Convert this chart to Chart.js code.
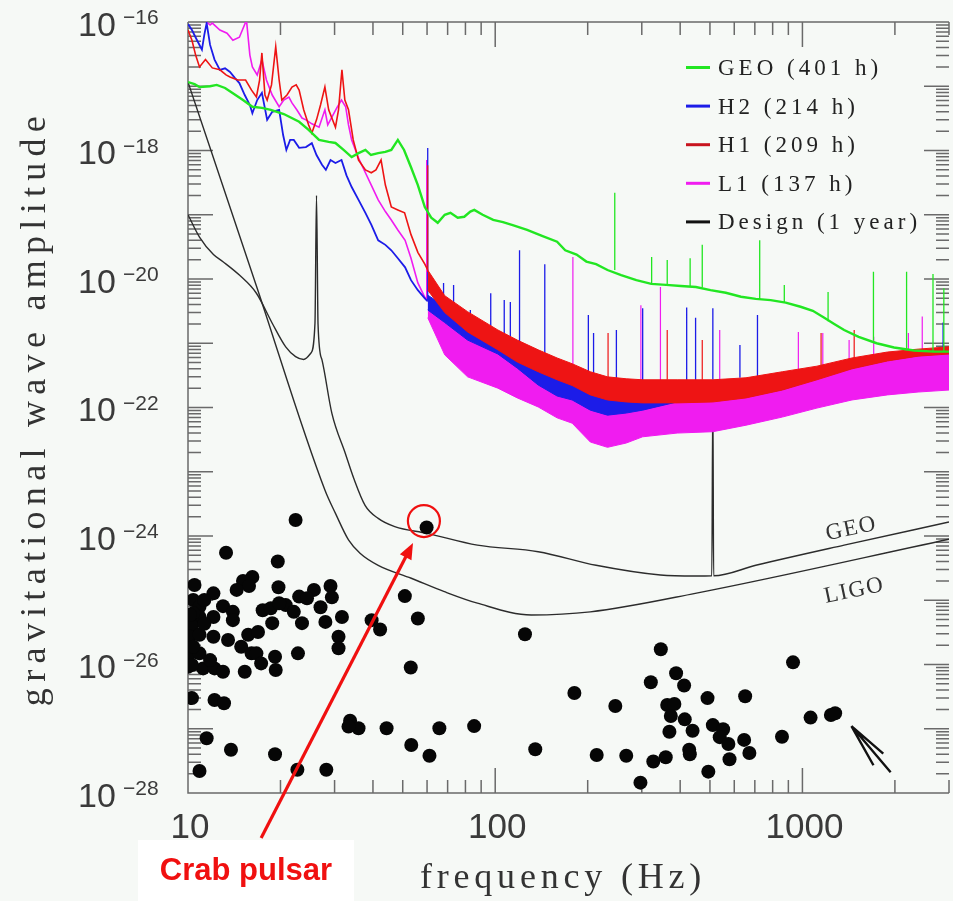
<!DOCTYPE html>
<html>
<head>
<meta charset="utf-8">
<script src="https://cdn.jsdelivr.net/npm/chart.js@4.4.1/dist/chart.umd.min.js"></script>
<style>
  html, body { margin: 0; padding: 0; background: #f6f9f6; overflow: hidden; }
  canvas { display: block; }
</style>
</head>
<body>
<canvas id="grafico" width="956" height="901"></canvas>
<script>
// ---- data ----
const xTickValues = [10, 100, 1000];
const xTickLabels = ['10', '100', '1000'];
const yTickExponents = [-16, -18, -20, -22, -24, -26, -28];

const legendLabels = ['GEO (401 h)', 'H2 (214 h)', 'H1 (209 h)', 'L1 (137 h)', 'Design (1 year)'];
const legendColors = ['#22e622', '#1c1ce8', '#c8141e', '#f01cf0', '#111111'];

// GEO measured spectrum
const geoHz = [10, 10.5, 10.9, 11.8, 12.4, 13.2, 14.0, 15.1, 16.2, 17.4, 18.6, 20.5, 23.0, 24.7, 26.7, 28.7, 30.2, 32.1, 34.1, 35.9,
  37.8, 39.4, 41.6, 43.9, 45.9, 48.2, 50.5, 53.2, 56.0, 59.0, 61.9, 65.0, 68.5, 71.5, 75.5, 79.3, 83.0, 85.5, 91.0, 98.5,
  106, 114, 127, 142, 159, 169, 184, 198, 213, 232, 257, 288, 322, 360, 402, 450, 502, 563, 631, 705,
  788, 882, 986, 1081, 1178, 1269, 1367, 1524, 1744, 1987, 2307, 2679, 3000];
const geoAmp = [1.16e-17, 1.08e-17, 9.7e-18, 1.0e-17, 1.05e-17, 9.4e-18, 7.8e-18, 6.1e-18, 4.8e-18, 4.6e-18, 4.3e-18, 3.7e-18, 2.8e-18, 2.1e-18, 1.46e-18, 1.36e-18, 1.31e-18, 1.02e-18, 7.9e-19, 9.1e-19,
  1.02e-18, 8.5e-19, 9.1e-19, 9.5e-19, 1.02e-18, 1.46e-18, 1.02e-18, 5.5e-19, 2.9e-19, 1.32e-19, 9.0e-20, 7.5e-20, 1.0e-19, 1.07e-19, 9.0e-20, 9.3e-20, 1.12e-19, 1.19e-19, 1.0e-19, 8.3e-20,
  7.7e-20, 6.9e-20, 5.8e-20, 4.7e-20, 3.8e-20, 2.8e-20, 2.4e-20, 1.87e-20, 1.7e-20, 1.38e-20, 1.15e-20, 9.6e-21, 8.4e-21, 8.1e-21, 7.8e-21, 7.5e-21, 6.7e-21, 6.1e-21, 5.3e-21, 4.9e-21,
  4.7e-21, 4.3e-21, 3.7e-21, 3.2e-21, 2.5e-21, 2.0e-21, 1.61e-21, 1.26e-21, 1.0e-21, 8.6e-22, 7.7e-22, 7.4e-22, 7.4e-22];
const geoSpikeHz = [245, 323, 363, 431, 472, 726, 873, 1212, 1703, 2183, 2661, 2886];
const geoSpikeLo = [1.38e-20, 8.4e-21, 8.1e-21, 7.6e-21, 7.3e-21, 4.9e-21, 4.3e-21, 2.2e-21, 1.1e-21, 7.8e-22, 7.4e-22, 7.4e-22];
const geoSpikeHi = [2.2e-19, 2.2e-20, 1.98e-20, 2.1e-20, 3.4e-20, 4.0e-20, 8.1e-21, 6.3e-21, 1.3e-20, 1.3e-20, 1.2e-20, 7.2e-21];

// H2, H1, L1 below 60 Hz
const h2Hz = [10, 10.3, 10.7, 11.1, 11.3, 11.5, 11.8, 12.2, 12.7, 13.2, 13.7, 14.2, 14.7, 15.3, 15.9, 16.2, 16.8, 17.4, 18.1, 18.8,
  19.8, 20.4, 20.9, 21.5, 22.1, 23.0, 24.2, 25.3, 26.2, 27.3, 28.1, 29.1, 30.2, 31.6, 32.8, 34.1, 35.9, 37.8, 39.5, 41.6,
  43.9, 45.9, 48.2, 50.9, 53.2, 56.0, 59.0, 60.3];
const h2Amp = [9.3e-17, 7.5e-17, 5.2e-17, 3.7e-17, 6.3e-17, 9.6e-17, 4.4e-17, 2.6e-17, 1.8e-17, 1.9e-17, 1.67e-17, 1.35e-17, 1.12e-17, 7.3e-18, 5.1e-18, 3.8e-18, 6.1e-18, 7.9e-18, 3.0e-18, 4.0e-18,
  4.3e-18, 1.74e-18, 1.02e-18, 1.46e-18, 1.46e-18, 1.1e-18, 1.13e-18, 1.3e-18, 8.5e-19, 6.0e-19, 5.0e-19, 7.1e-19, 6.4e-19, 7.1e-19, 4.1e-19, 2.7e-19, 1.7e-19, 1.07e-19, 7.0e-20, 4.0e-20,
  3.4e-20, 2.8e-20, 2.1e-20, 1.52e-20, 9.6e-21, 6.7e-21, 5.0e-21, 4.5e-21];
const h1Hz = [10, 10.3, 10.6, 10.9, 11.4, 12.0, 12.7, 13.3, 13.7, 14.5, 15.4, 16.1, 16.7, 17.1, 17.4, 17.8, 18.1, 18.7, 19.3, 19.8,
  20.2, 21.0, 21.8, 22.5, 23.0, 23.8, 24.7, 25.3, 26.2, 27.0, 27.9, 28.7, 30.2, 30.9, 31.7, 32.4, 33.3, 34.5, 35.9, 37.8,
  39.5, 40.9, 42.5, 43.9, 45.9, 48.2, 50.7, 53.2, 56.0, 59.0, 60.3];
const h1Amp = [7.5e-17, 5.2e-17, 3.0e-17, 2.0e-17, 2.6e-17, 1.93e-17, 1.8e-17, 1.5e-17, 1.39e-17, 1.25e-17, 1.25e-17, 8.7e-18, 6.8e-18, 1.25e-17, 3.3e-17, 7.3e-18, 6.1e-18, 1.05e-17, 4.1e-17, 1.25e-17,
  6.1e-18, 7.3e-18, 9.7e-18, 1.05e-17, 8.7e-18, 4.3e-18, 2.5e-18, 1.87e-18, 3.0e-18, 5.1e-18, 9.7e-18, 4.3e-18, 2.3e-18, 4.3e-18, 1.8e-17, 6.1e-18, 4.3e-18, 1.46e-18, 7.1e-19, 5.0e-19,
  4.5e-19, 5.0e-19, 7.1e-19, 2.9e-19, 1.32e-19, 1.19e-19, 1.07e-19, 4.9e-20, 2.6e-20, 1.7e-20, 1.38e-20];
const l1Hz = [10, 10.8, 11.3, 11.8, 12.0, 12.7, 13.4, 14.0, 14.7, 15.5, 15.9, 16.2, 16.8, 17.4, 18.0, 18.8, 19.8, 20.5, 21.3, 21.8,
  22.6, 23.5, 24.2, 25.3, 26.7, 27.9, 28.5, 29.4, 30.5, 31.6, 32.6, 33.3, 34.1, 35.9, 37.8, 39.5, 41.6, 43.9, 45.9, 48.2,
  50.9, 53.2, 56.0, 59.0, 60.3];
const l1Amp = [3.1e-16, 1.54e-16, 1.07e-16, 9.0e-17, 9.6e-17, 7.5e-17, 6.7e-17, 5.2e-17, 5.8e-17, 1.07e-16, 3.06e-17, 2.0e-17, 1.5e-17, 2.6e-17, 1.25e-17, 7.3e-18, 4.8e-18, 6.1e-18, 6.8e-18, 5.5e-18,
  4.3e-18, 3.2e-18, 3.0e-18, 2.6e-18, 2.3e-18, 4.3e-18, 2.5e-18, 3.3e-18, 4.6e-18, 6.1e-18, 4.8e-18, 2.5e-18, 1.46e-18, 7.6e-19, 4.5e-19, 2.9e-19, 1.7e-19, 1.12e-19, 8.3e-20, 5.8e-20,
  4.0e-20, 2.1e-20, 8.7e-21, 5.2e-21, 4.7e-21];

// noise bands above 60 Hz: upper and lower edge at common frequencies
const bandHz = [60.3, 68.5, 81.3, 102, 118, 138, 159, 178, 204, 232, 267, 302, 391, 511, 655, 860, 1115, 1450, 1890, 2380, 3000];
const h2Top = [5.6e-21, 3.8e-21, 2.5e-21, 1.5e-21, 8.8e-22, 5.1e-22, 3.3e-22, 2.7e-22, 2.0e-22, 1.74e-22, 1.74e-22, 2.0e-22, 2.5e-22, 2.6e-22, 2.7e-22, 3.3e-22, 4.0e-22, 5.4e-22, 6.6e-22, 7.4e-22, 8.0e-22];
const h2Bottom = [3.3e-21, 2.1e-21, 1.12e-21, 6.8e-22, 4.1e-22, 2.24e-22, 1.51e-22, 1.31e-22, 9.1e-23, 7.6e-23, 8.2e-23, 9.1e-23, 1.22e-22, 1.31e-22, 1.45e-22, 1.9e-22, 2.8e-22, 4.1e-22, 5.4e-22, 6.4e-22, 7.0e-22];
const h1Top = [1.38e-20, 5.5e-21, 3.1e-21, 1.61e-21, 1.12e-21, 7.9e-22, 5.9e-22, 4.8e-22, 3.6e-22, 3.0e-22, 2.8e-22, 2.7e-22, 2.7e-22, 2.7e-22, 2.9e-22, 3.6e-22, 4.4e-22, 5.9e-22, 7.3e-22, 8.1e-22, 8.8e-22];
const h1Bottom = [6.7e-21, 3.0e-21, 1.5e-21, 7.9e-22, 5.1e-22, 3.6e-22, 2.7e-22, 2.2e-22, 1.57e-22, 1.31e-22, 1.22e-22, 1.18e-22, 1.18e-22, 1.22e-22, 1.41e-22, 1.87e-22, 2.7e-22, 4.0e-22, 5.3e-22, 6.3e-22, 6.8e-22];
const l1Top = [4.7e-21, 2.1e-21, 1.39e-21, 8.4e-22, 5.9e-22, 4.6e-22, 3.6e-22, 3.0e-22, 2.16e-22, 2.0e-22, 1.87e-22, 1.87e-22, 1.74e-22, 1.68e-22, 1.87e-22, 2.24e-22, 3.0e-22, 4.6e-22, 6.1e-22, 7.3e-22, 7.9e-22];
const l1Bottom = [2.5e-21, 6.6e-22, 3.0e-22, 2.0e-22, 1.41e-22, 1.02e-22, 6.9e-23, 5.7e-23, 2.9e-23, 2.4e-23, 2.8e-23, 3.5e-23, 4.0e-23, 4.2e-23, 5.3e-23, 7.1e-23, 9.8e-23, 1.31e-22, 1.57e-22, 1.74e-22, 1.87e-22];

// spectral lines (frequency, foot, top)
const h2SpikeHz = [60.3, 67.9, 73.2, 83.0, 96.7, 107, 112, 120, 145, 201, 209, 248, 302, 420, 449, 511, 626, 714, 2870];
const h2SpikeLo = [4.7e-21, 3.3e-21, 2.8e-21, 1.92e-21, 1.5e-21, 1.12e-21, 9.1e-22, 7.3e-22, 4.1e-22, 1.87e-22, 1.76e-22, 1.57e-22, 1.87e-22, 2.3e-22, 2.5e-22, 2.7e-22, 2.9e-22, 2.8e-22, 7.9e-22];
const h2SpikeHi = [1.09e-18, 8.7e-21, 8.1e-21, 3.3e-21, 6.0e-21, 4.7e-21, 4.4e-21, 2.8e-20, 1.7e-20, 2.75e-21, 1.45e-21, 1.61e-21, 3.5e-21, 3.6e-21, 2.5e-21, 3.5e-21, 9.4e-22, 2.75e-21, 2.1e-21];
const h1SpikeHz = [60.3, 233, 363, 472, 1150, 1474];
const h1SpikeLo = [1.29e-20, 2.9e-22, 2.7e-22, 2.7e-22, 4.4e-22, 5.9e-22];
const h1SpikeHi = [5.9e-19, 1.45e-21, 1.61e-21, 1.12e-21, 1.45e-21, 1.61e-21];
const l1SpikeHz = [59.8, 179, 298, 345, 538, 970, 1165, 1419, 1706, 2213, 2455];
const l1SpikeLo = [4.7e-21, 3.0e-22, 1.87e-22, 1.87e-22, 1.74e-22, 2.24e-22, 2.9e-22, 3.8e-22, 5.5e-22, 6.8e-22, 7.3e-22];
const l1SpikeHi = [7.1e-19, 2.2e-20, 3.9e-21, 7.5e-21, 1.61e-21, 1.5e-21, 1.45e-21, 1.12e-21, 1.26e-21, 1.45e-21, 2.6e-21];

// design sensitivities (1 year)
const ligoDesignHz = [10, 16.7, 27.9, 30.2, 33.3, 36.3, 41.6, 53.3, 68.3, 87.5, 131, 204, 448, 3000];
const ligoDesignAmp = [1.16e-17, 7.8e-21, 5.2e-24, 2.25e-24, 8.7e-25, 5.4e-25, 3.5e-25, 2.2e-25, 1.36e-25, 9.0e-26, 5.9e-26, 6.6e-26, 1.28e-25, 8.9e-25];
const geoDesignHz = [10, 10.9, 12.1, 13.0, 14.7, 16.7, 18.8, 20.8, 22.4, 23.8, 25.1, 25.9, 26.2, 26.5, 27.3, 29.4, 32.5, 34.6, 37.7, 41.6,
  47.1, 60.0, 87.5, 138, 213, 345, 448, 507, 511, 514, 705, 1367, 3000];
const geoDesignAmp = [1.0e-19, 4.5e-20, 2.4e-20, 1.86e-20, 1.15e-20, 6.0e-21, 2.05e-21, 8.8e-22, 6.2e-22, 5.6e-22, 7.0e-22, 2.05e-21, 2.0e-19, 2.0e-21, 5.5e-22, 8.1e-23, 1.94e-23, 8.0e-24, 3.0e-24, 1.88e-24,
  1.40e-24, 1.10e-24, 7.2e-25, 5.7e-25, 3.5e-25, 2.47e-25, 2.38e-25, 2.4e-25, 1.57e-22, 2.4e-25, 3.5e-25, 7.2e-25, 1.65e-24];

// known pulsars
const pulsarHz = [22.4, 13.3, 19.6, 16.2, 15.1, 15.8, 19.7, 14.4, 12.1, 29.1, 25.7, 29.4, 23.0, 24.4, 10.4, 10.9, 13.0, 20.8, 17.5, 18.6,
  19.8, 22.1, 27.0, 14.0, 10.9, 12.1, 31.7, 23.5, 28.0, 18.8, 14.0, 10.3, 39.6, 42.2, 56.0, 50.8, 10.15, 10.9, 12.1, 13.5,
  15.7, 16.9, 30.9, 30.9, 14.9, 16.1, 16.7, 19.2, 22.8, 10.15, 10.9, 10.4, 10.0, 11.2, 12.2, 13.0, 15.3, 17.3, 19.3, 53.1,
  10.3, 12.2, 13.1, 33.7, 35.9, 33.3, 44.3, 65.8, 85.4, 11.5, 53.3, 61.1, 13.8, 19.2, 10.9, 22.7, 28.2,
  10.4, 11.3, 10.3, 11.8, 10.5, 11.3, 10.15, 59.8,
  125, 346, 932, 321, 388, 412, 181, 491, 651, 246, 363, 383, 373, 414, 1063, 1238, 1278, 511, 552, 439,
  369, 858, 538, 646, 574, 135, 428, 430, 672, 214, 267, 359, 327, 579, 494, 297];
const pulsarAmp = [1.77e-24, 5.5e-25, 4.0e-25, 2.3e-25, 2.0e-25, 1.67e-25, 1.59e-25, 1.45e-25, 1.28e-25, 1.67e-25, 1.45e-25, 1.11e-25, 1.14e-25, 1.07e-25, 1.01e-25, 7.9e-26, 8.1e-26, 8.4e-26, 7.0e-26, 7.5e-26,
  9.0e-26, 6.6e-26, 7.8e-26, 6.6e-26, 5.5e-26, 5.5e-26, 5.5e-26, 4.4e-26, 4.6e-26, 4.4e-26, 4.9e-26, 3.9e-26, 4.9e-26, 3.5e-26, 5.2e-26, 1.16e-25, 2.7e-26, 2.9e-26, 2.7e-26, 2.4e-26,
  2.9e-26, 3.2e-26, 2.7e-26, 1.79e-26, 1.89e-26, 1.49e-26, 1.49e-26, 1.32e-26, 1.49e-26, 1.49e-26, 1.49e-26, 1.89e-26, 9.2e-27, 8.7e-27, 8.7e-27, 7.7e-27, 7.7e-27, 1.04e-26, 8.2e-27, 9.0e-27,
  3.0e-27, 2.8e-27, 2.5e-27, 1.33e-27, 1.02e-27, 1.08e-27, 1.02e-27, 1.02e-27, 1.10e-27, 7.1e-28, 5.6e-28, 3.8e-28, 4.7e-28, 4.0e-28, 2.2e-28, 2.3e-28, 2.3e-28,
  6.3e-26, 4.3e-26, 9.8e-27, 1.17e-26, 1.73e-25, 1.01e-25, 5.9e-26, 1.36e-24,
  2.95e-26, 1.73e-26, 1.08e-26, 5.3e-27, 7.3e-27, 4.7e-27, 3.6e-27, 3.0e-27, 3.2e-27, 2.26e-27, 2.34e-27, 2.43e-27, 1.58e-27, 1.40e-27, 1.49e-27, 1.64e-27, 1.74e-27, 1.14e-27, 9.8e-28, 9.3e-28,
  9.0e-28, 7.5e-28, 7.4e-28, 6.7e-28, 5.8e-28, 4.8e-28, 4.7e-28, 4.0e-28, 4.2e-28, 3.9e-28, 3.8e-28, 3.6e-28, 3.1e-28, 3.35e-28, 2.15e-28, 1.45e-28];

// annotation anchors (Hz, amplitude)
const crabCircle = { x: 58.6, y: 1.71e-24 };
const crabArrowTail = { x: 17.3, y: 2.0e-29 };
const crabArrowTip = { x: 54.0, y: 7.8e-25 };
const blackArrow = [{ x: 1444, y: 1.1e-27 }, { x: 1937, y: 2.1e-28 }, { x: 1833, y: 4.1e-28 }, { x: 1703, y: 2.7e-28 }];

// ---- helpers ----
function pontos(xs, ys) {
    return xs.map((x, i) => ({ x: x, y: ys[i] }));
}

function picos(xs, base, topo) {
    const out = [];
    xs.forEach((x, i) => {
        out.push({ x: x, y: base[i] }, { x: x, y: topo[i] }, { x: x, y: null });
    });
    return out;
}

function linha(data, cor, largura, ordem, extra) {
    return Object.assign({
        type: 'line', data: data, borderColor: cor, backgroundColor: cor,
        borderWidth: largura, pointRadius: 0, fill: false, tension: 0, order: ordem
    }, extra || {});
}

const SERIF = '"Liberation Serif", "DejaVu Serif", serif';
const SANS = '"Liberation Sans", Arial, sans-serif';

const molduraEixos = {
    id: 'molduraEixos',
    beforeDatasetsDraw(chart) {
        const { ctx, chartArea: a, scales: { x, y } } = chart;
        ctx.save();
        ctx.strokeStyle = '#6a6a6a';
        ctx.lineWidth = 1.5;
        ctx.beginPath();
        ctx.moveTo(a.left, a.top); ctx.lineTo(a.left, a.bottom); ctx.lineTo(a.right, a.bottom);
        ctx.moveTo(a.left, a.top); ctx.lineTo(a.right, a.top);
        for (let e = 1; e <= 3; e++) {
            for (let k = 1; k < 10; k++) {
                const v = k * Math.pow(10, e);
                if (v > x.max) break;
                const px = x.getPixelForValue(v);
                const len = k === 1 ? 25 : 13;
                ctx.moveTo(px, a.bottom); ctx.lineTo(px, a.bottom - len);
                ctx.moveTo(px, a.top); ctx.lineTo(px, a.top + len);
            }
        }
        for (let e = -28; e < -16; e++) {
            for (let k = 1; k < 10; k++) {
                const py = y.getPixelForValue(k * Math.pow(10, e));
                const len = k === 1 ? 25 : 13;
                ctx.moveTo(a.left, py); ctx.lineTo(a.left + len, py);
                ctx.moveTo(a.right, py); ctx.lineTo(a.right - len, py);
            }
        }
        ctx.stroke();
        ctx.restore();
    },
    afterDraw(chart) {
        const { ctx, scales: { x, y } } = chart;
        ctx.save();
        ctx.fillStyle = '#3a3a3a';
        // y tick labels 10^n
        ctx.textAlign = 'left';
        yTickExponents.forEach(e => {
            const py = y.getPixelForValue(Math.pow(10, e));
            ctx.font = '34px ' + SANS;
            ctx.fillText('10', 78, py + 13.5);
            ctx.font = '21px ' + SANS;
            ctx.fillText('\u2212' + Math.abs(e), 123, py + 2);
        });
        // x tick labels
        ctx.textAlign = 'center';
        ctx.font = '35px ' + SANS;
        xTickValues.forEach((v, i) => {
            ctx.fillText(xTickLabels[i], x.getPixelForValue(v) + 2, 838);
        });
        // axis titles
        ctx.fillStyle = '#333';
        ctx.font = '36px ' + SERIF;
        ctx.letterSpacing = '4.8px';
        ctx.fillText('frequency (Hz)', 563, 888);
        ctx.save();
        ctx.translate(45, 408);
        ctx.rotate(-Math.PI / 2);
        ctx.letterSpacing = '6.3px';
        ctx.fillText('gravitational wave amplitude', 0, 0);
        ctx.restore();

        // legend
        ctx.textAlign = 'left';
        ctx.font = '23px ' + SERIF;
        ctx.letterSpacing = '4px';
        legendLabels.forEach((lab, i) => {
            const base = 75 + i * 38.6;
            ctx.strokeStyle = legendColors[i];
            ctx.lineWidth = 3;
            ctx.beginPath();
            ctx.moveTo(686, base - 7.5); ctx.lineTo(710, base - 7.5);
            ctx.stroke();
            ctx.fillStyle = '#222';
            ctx.fillText(lab, 718, base);
        });

        // design curve labels
        ctx.fillStyle = '#333';
        ctx.letterSpacing = '1.5px';
        ctx.font = '23px ' + SERIF;
        ctx.textAlign = 'center';
        [['GEO', 1439, 1.38e-24], ['LIGO', 1472, 1.5e-25]].forEach(([t, fx, fy]) => {
            ctx.save();
            ctx.translate(x.getPixelForValue(fx), y.getPixelForValue(fy));
            ctx.rotate(-12 * Math.PI / 180);
            ctx.fillText(t, 0, 8);
            ctx.restore();
        });
        ctx.letterSpacing = '0px';

        // black arrow near the ms pulsars
        const p = blackArrow.map(q => [x.getPixelForValue(q.x), y.getPixelForValue(q.y)]);
        ctx.strokeStyle = '#111';
        ctx.lineWidth = 2.4;
        ctx.beginPath();
        for (let i = 1; i < p.length; i++) { ctx.moveTo(p[0][0], p[0][1]); ctx.lineTo(p[i][0], p[i][1]); }
        ctx.stroke();

        // Crab annotation
        const red = '#f01010';
        const cx = x.getPixelForValue(crabCircle.x), cy = y.getPixelForValue(crabCircle.y);
        ctx.strokeStyle = red;
        ctx.lineWidth = 2.2;
        ctx.beginPath();
        ctx.arc(cx, cy, 16, 0, Math.PI * 2);
        ctx.stroke();
        const tx = x.getPixelForValue(crabArrowTail.x), ty = y.getPixelForValue(crabArrowTail.y);
        const hx = x.getPixelForValue(crabArrowTip.x), hy = y.getPixelForValue(crabArrowTip.y);
        const ang = Math.atan2(hy - ty, hx - tx);
        ctx.lineWidth = 3.2;
        ctx.beginPath();
        ctx.moveTo(tx, ty);
        ctx.lineTo(hx - 12 * Math.cos(ang), hy - 12 * Math.sin(ang));
        ctx.stroke();
        ctx.fillStyle = red;
        ctx.beginPath();
        ctx.moveTo(hx, hy);
        ctx.lineTo(hx - 16 * Math.cos(ang) + 6.5 * Math.sin(ang), hy - 16 * Math.sin(ang) - 6.5 * Math.cos(ang));
        ctx.lineTo(hx - 16 * Math.cos(ang) - 6.5 * Math.sin(ang), hy - 16 * Math.sin(ang) + 6.5 * Math.cos(ang));
        ctx.closePath();
        ctx.fill();
        ctx.fillStyle = '#ffffff';
        ctx.fillRect(138, 840, 216, 62);
        ctx.fillStyle = red;
        ctx.font = 'bold 31px ' + SANS;
        ctx.textAlign = 'center';
        ctx.fillText('Crab pulsar', 246, 880);
        ctx.restore();
    }
};

function criarGrafico() {
    const ctx = document.getElementById('grafico').getContext('2d');
    const verde = '#22e622', azul = '#1c1ce8', vermelho = '#ee1414', magenta = '#f01cf0', preto = '#2c2c2c';

    window.grafico = new Chart(ctx, {
        data: {
            datasets: [
                { type: 'scatter', data: pontos(pulsarHz, pulsarAmp), pointRadius: 7, pointBackgroundColor: '#060606', pointBorderWidth: 0, order: 0 },
                linha(pontos(geoHz, geoAmp), verde, 2.4, 1),
                linha(picos(geoSpikeHz, geoSpikeLo, geoSpikeHi), verde, 1.3, 1),
                linha(picos(h1SpikeHz, h1SpikeLo, h1SpikeHi), vermelho, 1.2, 2),
                linha(pontos(bandHz, h1Top), vermelho, 1, 2, { fill: '+1' }),
                linha(pontos(bandHz, h1Bottom), vermelho, 1, 2),
                linha(pontos(h1Hz, h1Amp), vermelho, 1.6, 2),
                linha(picos(h2SpikeHz, h2SpikeLo, h2SpikeHi), azul, 1.3, 3),
                linha(pontos(bandHz, h2Top), azul, 1, 3, { fill: '+1' }),
                linha(pontos(bandHz, h2Bottom), azul, 1, 3),
                linha(pontos(h2Hz, h2Amp), azul, 1.8, 3),
                linha(picos(l1SpikeHz, l1SpikeLo, l1SpikeHi), magenta, 1.2, 4),
                linha(pontos(bandHz, l1Top), magenta, 1, 4, { fill: '+1' }),
                linha(pontos(bandHz, l1Bottom), magenta, 1, 4),
                linha(pontos(l1Hz, l1Amp), magenta, 1.6, 4),
                linha(pontos(geoDesignHz, geoDesignAmp), preto, 1.4, 6, { cubicInterpolationMode: 'monotone' }),
                linha(pontos(ligoDesignHz, ligoDesignAmp), preto, 1.4, 6, { cubicInterpolationMode: 'monotone' })
            ]
        },
        options: {
            responsive: false,
            animation: false,
            devicePixelRatio: 1,
            events: [],
            layout: { padding: { top: 22, left: 0, right: 0, bottom: 0 } },
            scales: {
                x: {
                    type: 'logarithmic', min: 10, max: 3000,
                    ticks: { display: false }, grid: { display: false }, border: { display: false },
                    afterFit: s => { s.height = 108; }
                },
                y: {
                    type: 'logarithmic', min: 1e-28, max: 1e-16,
                    ticks: { display: false }, grid: { display: false }, border: { display: false },
                    afterFit: s => { s.width = 188; }
                }
            },
            plugins: { legend: { display: false }, tooltip: { enabled: false } }
        },
        plugins: [molduraEixos]
    });
}

window.addEventListener('DOMContentLoaded', criarGrafico);
</script>
</body>
</html>
